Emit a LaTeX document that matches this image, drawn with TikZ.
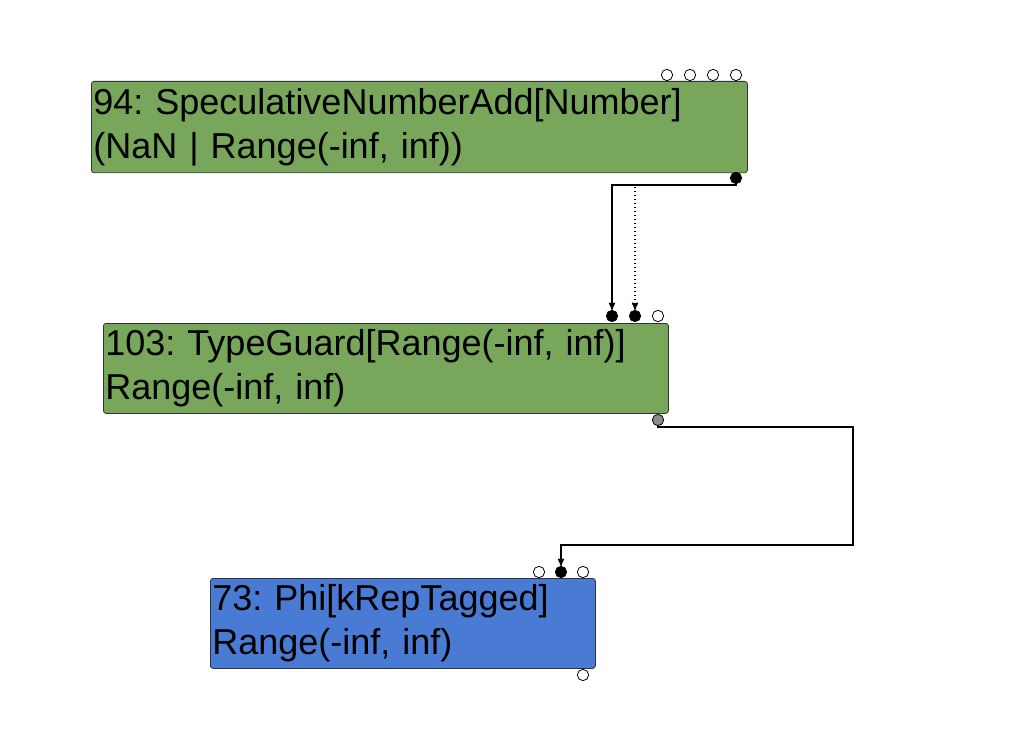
\documentclass[tikz,border=0pt]{standalone}
\usepackage{fontspec}
\setmainfont{Liberation Sans}
\usetikzlibrary{arrows,positioning}
\definecolor{opgreen}{RGB}{120,166,90}
\definecolor{phiblue}{RGB}{74,123,212}
\frenchspacing

\begin{document}
\begin{tikzpicture}[x=0.75pt,y=-0.75pt,->,>=stealth',
  op node/.style={draw=black!80,line width=0.6pt,rounded corners=2pt,anchor=north west,
    align=left,inner xsep=1.5pt,inner ysep=0pt,font=\fontsize{27}{33}\selectfont},
  port/.style={circle,draw,fill=white,inner sep=0pt,minimum size=8.5pt,line width=0.6pt},
  used port/.style={port,fill=black},
  wire/.style={line width=1pt,shorten >=0pt}]

  \useasboundingbox (0,0) rectangle (1018,756);

  % operation boxes
  \node[op node,fill=opgreen,text width=489pt,minimum height=68.5pt] (n94) at (91,81)
    {94: SpeculativeNumberAdd[Number]\\(NaN | Range(-inf, inf))};
  \node[op node,fill=opgreen,text width=420.75pt,minimum height=67.5pt] (n103) at (103,323)
    {103: TypeGuard[Range(-inf, inf)]\\Range(-inf, inf)};
  \node[op node,fill=phiblue,text width=285.75pt,minimum height=67.5pt] (n73) at (210,578)
    {73: Phi[kRepTagged]\\Range(-inf, inf)};

  % ports
  \foreach \x [count=\i] in {667,690,713,736}
    \node[port] (i94\i) at (\x,75) {};
  \node[used port] (o94) at (736,178) {};
  \node[used port] (i103a) at (612,316) {};
  \node[used port] (i103b) at (635,316) {};
  \node[port] (i103c) at (658,316) {};
  \node[port,fill=black!45] (o103) at (658,420) {};
  \node[port] (i73a) at (539,572) {};
  \node[used port] (i73b) at (561,572) {};
  \node[port] (i73c) at (583,572) {};
  \node[port] (o73) at (583,675) {};

  \coordinate (turn) at (853,545);

  % connections
  \draw[wire] (o94) -- ++(0,7) -| (i103a);
  \draw[wire,dotted] (o94) -- ++(0,7) -| (i103b);
  \draw[wire] (o103) -- ++(0,7) -| (turn) -| (i73b);
\end{tikzpicture}
\end{document}
